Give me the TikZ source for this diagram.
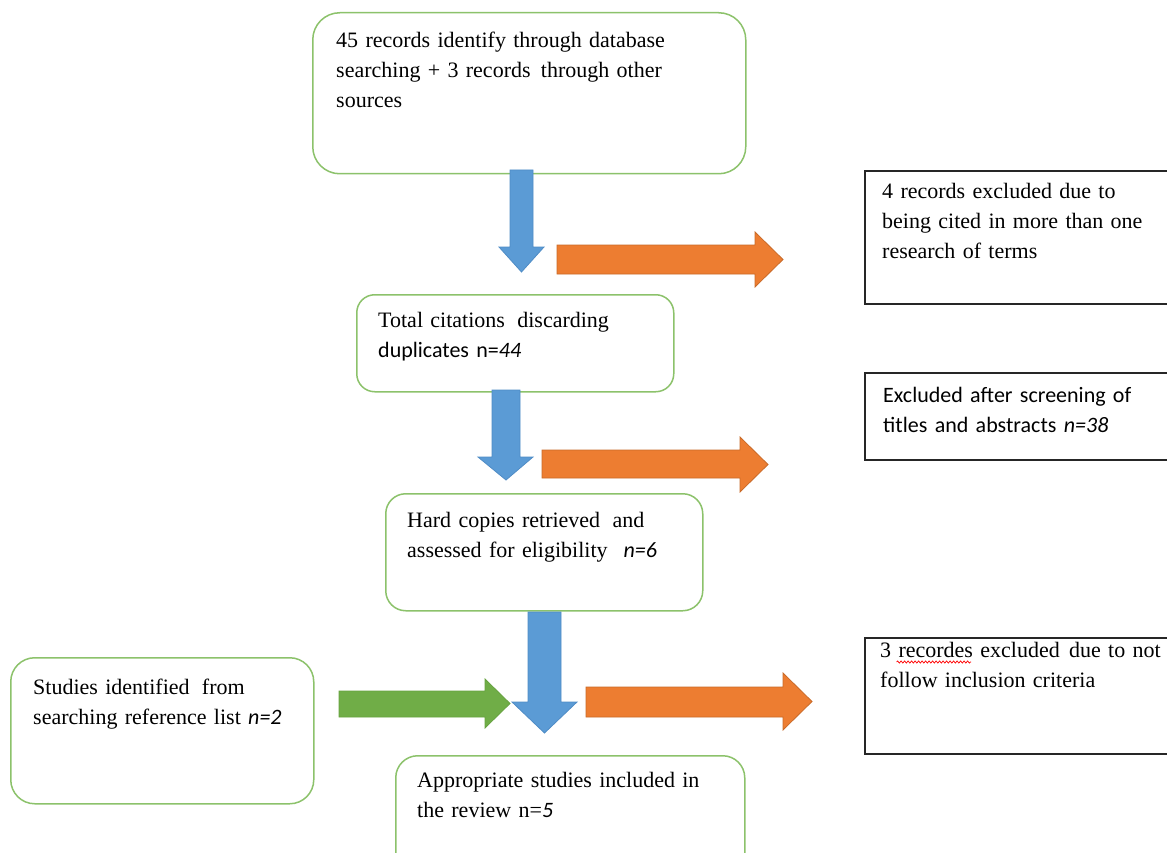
\documentclass[tikz,border=0pt]{standalone}
\usepackage{fontspec}
\setmainfont{Liberation Serif}
\newfontfamily\calibri{Carlito}
\usetikzlibrary{decorations.pathmorphing}
\definecolor{boxgreen}{HTML}{8CC26B}
\definecolor{boxblack}{HTML}{262626}
\definecolor{arrblue}{HTML}{5B9BD5}
\definecolor{arrblueline}{HTML}{4F8CC6}
\definecolor{arrorange}{HTML}{ED7D31}
\definecolor{arrorangeline}{HTML}{C96A28}
\definecolor{arrgreen}{HTML}{70AD47}
\definecolor{arrgreenline}{HTML}{66A23F}
\begin{document}
\begin{tikzpicture}[x=1pt,y=-1pt,
  gbox/.style={draw=boxgreen, line width=1.5pt, fill=white, inner sep=0pt, anchor=north west},
  kbox/.style={draw=boxblack, line width=2pt, fill=white, inner sep=0pt, anchor=north west},
  txt/.style={anchor=north west, inner sep=0pt, align=left, text width=430pt, font=\fontsize{22}{30}\selectfont},
  blockblue/.style={fill=arrblue, draw=arrblueline, line width=0.8pt, line join=miter},
  blockorange/.style={fill=arrorange, draw=arrorangeline, line width=0.8pt, line join=miter},
  blockgreen/.style={fill=arrgreen, draw=arrgreenline, line width=0.8pt, line join=miter},
  spellwave/.style={draw=red, line width=0.7pt, decorate, decoration={snake, segment length=3.5pt, amplitude=1.1pt}}]
\useasboundingbox (0,0) rectangle (1167,853);
\fill[white] (0,0) rectangle (1167,853);
\clip (0,0) rectangle (1167,853);

% boxes
\node[gbox, minimum width=433pt, minimum height=161pt, rounded corners=27pt] (b1) at (312,12) {};
\node[kbox, minimum width=330pt, minimum height=133pt] (r1) at (864,170) {};
\node[gbox, minimum width=317pt, minimum height=97pt, rounded corners=18pt] (b2) at (356,294) {};
\node[kbox, minimum width=330pt, minimum height=87pt] (r2) at (864,372) {};
\node[gbox, minimum width=317pt, minimum height=117pt, rounded corners=20pt] (b3) at (385,493) {};
\node[gbox, minimum width=303pt, minimum height=146pt, rounded corners=24pt] (b4) at (10,657) {};
\node[kbox, minimum width=330pt, minimum height=116pt] (r3) at (864,637) {};
\node[gbox, minimum width=349pt, minimum height=130pt, rounded corners=22pt] (b5) at (395,755) {};

% texts
\node[txt] (t1) at (336,26) {\strut 45 records identify through database\\searching + 3 records\hspace{3pt} through other\\sources};
\node[txt] (tr1) at (882,177) {\strut 4 records excluded due to\\being cited in more than one\\research of terms};
\node[txt] (t2) at (378,306) {\strut Total citations\hspace{5pt} discarding\\{\calibri duplicates n=\textit{44}}};
\node[txt, font=\fontsize{22}{30}\selectfont\calibri] (tr2) at (883,381) {\strut Excluded after screening of\\titles and abstracts \textit{n=38}};
\node[txt] (t3) at (407,506) {\strut Hard copies retrieved\hspace{5pt} and\\assessed for eligibility\hspace{16pt}{\calibri\itshape n=6}};
\node[txt] (t4) at (33,673) {\strut Studies identified\hspace{5pt} from\\searching reference list {\calibri\itshape n=2}};
\node[txt] (tr3) at (880,636) {\strut 3 recordes excluded\hspace{2pt} due to not\\follow inclusion criteria};
\node[txt] (t5) at (417,766) {\strut Appropriate studies included in\\the review n={\calibri\itshape 5}};
\draw[spellwave] ([xshift=16.5pt,yshift=-26pt]tr3.north west) -- ++(74.5,0);

% block arrows
\filldraw[blockblue] (510,170) -- (533,170) -- (533,247) -- (544,247) -- (521.5,272) -- (499,247) -- (510,247) -- cycle;
\filldraw[blockblue] (492,390) -- (520,390) -- (520,457) -- (533,457) -- (506,480) -- (478,457) -- (492,457) -- cycle;
\filldraw[blockblue] (528,612) -- (561,612) -- (561,702) -- (577,702) -- (544.5,733) -- (512,702) -- (528,702) -- cycle;
\filldraw[blockorange] (557,245) -- (755,245) -- (755,232) -- (783,259.5) -- (755,287) -- (755,274) -- (557,274) -- cycle;
\filldraw[blockorange] (542,450) -- (740,450) -- (740,437) -- (768,464.5) -- (740,492) -- (740,478) -- (542,478) -- cycle;
\filldraw[blockorange] (586,687) -- (783,687) -- (783,673) -- (812,701.5) -- (783,730) -- (783,717) -- (586,717) -- cycle;
\filldraw[blockgreen] (339,691) -- (485,691) -- (485,679) -- (510,703.5) -- (485,728) -- (485,717) -- (339,717) -- cycle;
\end{tikzpicture}
\end{document}
